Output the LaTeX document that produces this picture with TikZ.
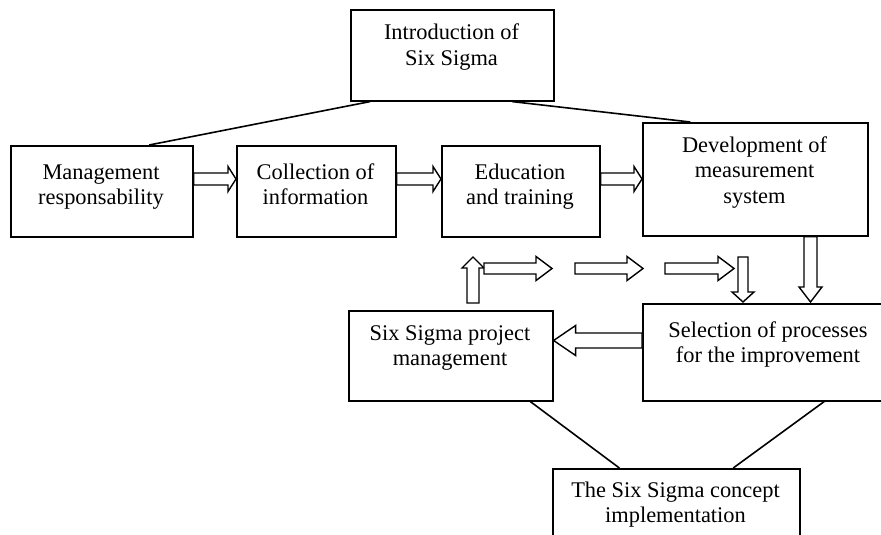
\documentclass[tikz,border=0pt]{standalone}
\usepackage{fontspec}
\setmainfont{Liberation Serif}
\usetikzlibrary{calc}

\tikzset{
  box/.style={draw, line width=1.6pt, rectangle, inner sep=0pt, anchor=north west},
  caption/.style={anchor=base, inner sep=0pt, font=\fontsize{22.4}{25.5}\selectfont},
  hollowarrow/.style={draw, line width=1.4pt, fill=white, line join=miter},
  link/.style={line width=1.6pt},
}

% multi-line centred caption whose baseline is that of its first line
\newcommand\boxlines[1]{\begin{tabular}[t]{@{}c@{}}#1\end{tabular}}

% hollow block arrow from #1 to #2: shaft half width #3, head half width #4, head length #5
\newcommand\blockarrow[5]{%
  \coordinate (ba-k) at ($(#2)!#5!(#1)$);
  \draw[hollowarrow] ($(#1)!#3!90:(#2)$) -- ($(ba-k)!#3!90:(#2)$) -- ($(ba-k)!#4!90:(#2)$)
    -- (#2) -- ($(ba-k)!#4!-90:(#2)$) -- ($(ba-k)!#3!-90:(#2)$) -- ($(#1)!#3!-90:(#2)$) -- cycle;
}

\begin{document}
\begin{tikzpicture}[x=1pt,y=-1pt]
\clip (0,0) rectangle (881,535);
\fill[white] (0,0) rectangle (881,535);

% boxes
\node[box, minimum width=203pt, minimum height=91pt]  (intro) at (350,9)   {};
\node[box, minimum width=182pt, minimum height=91pt]  (mgmt)  at (10,145)  {};
\node[box, minimum width=159pt, minimum height=91pt]  (coll)  at (236,145) {};
\node[box, minimum width=158pt, minimum height=91pt]  (edu)   at (441,145) {};
\node[box, minimum width=225pt, minimum height=113pt] (dev)   at (642,122) {};
\node[box, minimum width=204pt, minimum height=90pt]  (proj)  at (348,310) {};
\node[box, minimum width=251pt, minimum height=97pt]  (sel)   at (642,303) {};
\node[box, minimum width=247pt, minimum height=100pt] (impl)  at (552,468) {};

% captions
\node[caption] (introtxt) at (451.5,40) {\boxlines{Introduction of\\Six Sigma}};
\node[caption] (mgmttxt)  at (101,179)  {\boxlines{Management\\responsability}};
\node[caption] (colltxt)  at (315.5,179) {\boxlines{Collection of\\information}};
\node[caption] (edutxt)   at (520,179)  {\boxlines{Education\\and training}};
\node[caption] (devtxt)   at (754.5,152) {\boxlines{Development of\\measurement\\system}};
\node[caption] (projtxt)  at (450,340)  {\boxlines{Six Sigma project\\management}};
\node[caption] (seltxt)   at (768,337)  {\boxlines{Selection of processes\\for the improvement}};
\node[caption] (impltxt)  at (675.5,497) {\boxlines{The Six Sigma concept\\implementation}};

% plain links
\draw[link] ($(intro.south west)!0.098!(intro.south east)$) -- ($(mgmt.north west)!0.758!(mgmt.north east)$);
\draw[link] ($(intro.south west)!0.793!(intro.south east)$) -- ($(dev.north west)!0.213!(dev.north east)$);
\draw[link] ($(proj.south west)!0.887!(proj.south east)$) -- ($(impl.north west)!0.271!(impl.north east)$);
\draw[link] ($(sel.south west)!0.721!(sel.south east)$) -- ($(impl.north west)!0.729!(impl.north east)$);

% upper row of hollow arrows
\coordinate (row) at (0,179);
\coordinate (a1s) at (mgmt.east |- row);
\coordinate (a1e) at (coll.west |- row);
\coordinate (a2s) at (coll.east |- row);
\coordinate (a2e) at (edu.west |- row);
\coordinate (a3s) at (edu.east |- row);
\coordinate (a3e) at (dev.west |- row);
\blockarrow{a1s}{a1e}{6pt}{12.5pt}{8pt}
\blockarrow{a2s}{a2e}{6pt}{12.5pt}{8pt}
\blockarrow{a3s}{a3e}{6pt}{12.5pt}{8pt}

% from development down to selection
\coordinate (d1s) at (810.5,0 |- dev.south);
\coordinate (d1e) at (810.5,302);
\blockarrow{d1s}{d1e}{6.5pt}{11.5pt}{15pt}

% loop from the project management box back to selection
\coordinate (u1s) at (473,303);
\coordinate (u1e) at (473,257);
\blockarrow{u1s}{u1e}{6pt}{11pt}{11pt}
\coordinate (h1s) at (484,268.5);
\coordinate (h1e) at (552,268.5);
\coordinate (h2s) at (575,268.5);
\coordinate (h2e) at (643,268.5);
\coordinate (h3s) at (665,268.5);
\coordinate (h3e) at (734,268.5);
\blockarrow{h1s}{h1e}{5.5pt}{12pt}{16pt}
\blockarrow{h2s}{h2e}{5.5pt}{12pt}{16pt}
\blockarrow{h3s}{h3e}{5.5pt}{12pt}{16pt}
\coordinate (d2s) at (743,257);
\coordinate (d2e) at (743,302);
\blockarrow{d2s}{d2e}{5pt}{11pt}{10pt}

% selection feeds project management
\coordinate (lrow) at (0,340.5);
\coordinate (l1s) at (sel.west |- lrow);
\coordinate (l1e) at (proj.east |- lrow);
\blockarrow{l1s}{l1e}{7.5pt}{15pt}{22pt}
\end{tikzpicture}
\end{document}
